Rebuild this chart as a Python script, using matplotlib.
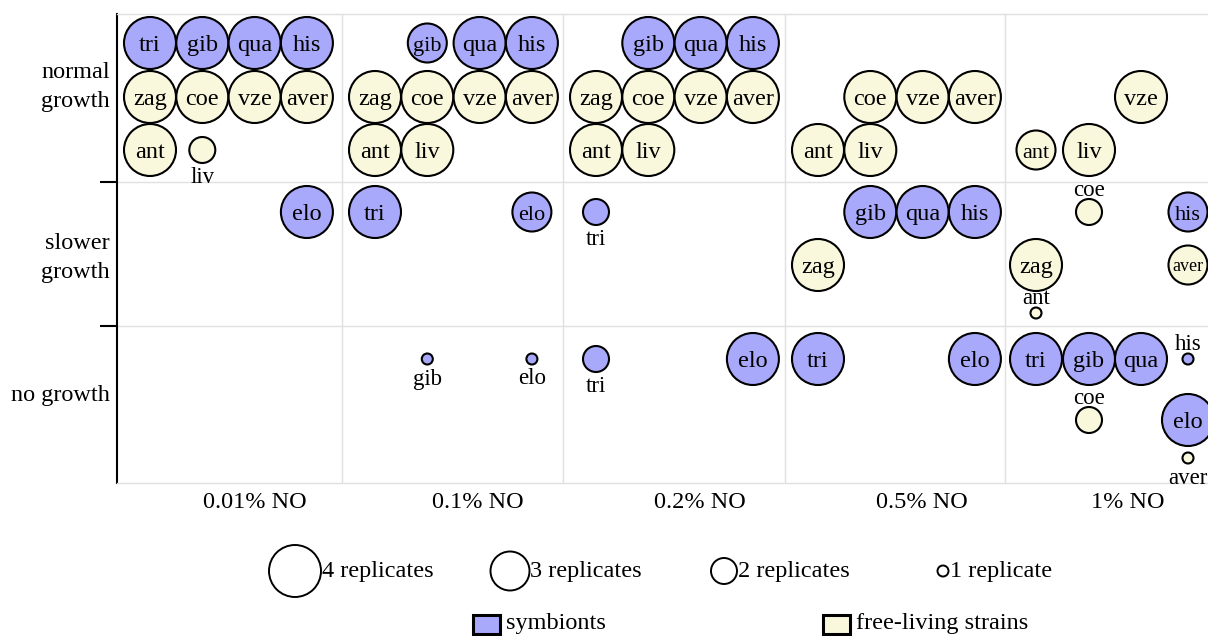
import matplotlib.pyplot as plt
from matplotlib.patches import Circle, Rectangle

plt.rcParams['font.family'] = ['Liberation Serif', 'DejaVu Serif']

concentrations = ["0.01% NO", "0.1% NO", "0.2% NO", "0.5% NO", "1% NO"]
growth_classes = ["normal\ngrowth", "slower\ngrowth", "no growth"]
symbionts = ["tri", "gib", "qua", "his", "elo"]
free_living = ["zag", "coe", "vze", "aver", "ant", "liv"]

# one entry per strain and outcome: concentration index, growth class index, strain, replicates
obs_conc = [0] * 11 + [1] * 13 + [2] * 12 + [3] * 11 + [4] * 15
obs_growth = ([0] * 10 + [1]
              + [0] * 9 + [1, 1, 2, 2]
              + [0] * 9 + [1, 2, 2]
              + [0] * 5 + [1] * 4 + [2] * 2
              + [0] * 3 + [1] * 5 + [2] * 7)
obs_strain = (["tri", "gib", "qua", "his", "zag", "coe", "vze", "aver", "ant", "liv", "elo"]
              + ["gib", "qua", "his", "zag", "coe", "vze", "aver", "ant", "liv", "tri", "elo", "gib", "elo"]
              + ["gib", "qua", "his", "zag", "coe", "vze", "aver", "ant", "liv", "tri", "tri", "elo"]
              + ["coe", "vze", "aver", "ant", "liv", "gib", "qua", "his", "zag", "tri", "elo"]
              + ["vze", "ant", "liv", "coe", "his", "zag", "aver", "ant",
                 "tri", "gib", "qua", "his", "coe", "elo", "aver"])
obs_reps = ([4] * 9 + [2, 4]
            + [3] + [4] * 8 + [4, 3, 1, 1]
            + [4] * 9 + [2, 2, 4]
            + [4] * 11
            + [4, 3, 4, 2, 3, 4, 3, 1, 4, 4, 4, 1, 2, 4, 1])

legend_reps = [4, 3, 2, 1]

# layout (pixel units inside the plot area)
col_left = [0, 225, 446, 668, 888]
row_top = [0, 168, 312]
slot_start = [33, 258, 479, 701, 919]
slot_x = [[0, 52.3, 104.6, 156.9]] * 4 + [[0, 53, 105, 152]]
slot_y = [[29, 83, 136], [30, 83, 131], [33, 94, 132]]
home_slot = {"tri": (0, 0), "gib": (1, 0), "qua": (2, 0), "his": (3, 0), "elo": (3, 0),
             "zag": (0, 1), "coe": (1, 1), "vze": (2, 1), "aver": (3, 1),
             "ant": (0, 2), "liv": (1, 2)}
moved_slot = {(4, 1, "coe"): (1, 0), (4, 2, "elo"): (3, 1), (4, 2, "aver"): (3, 2)}
label_above = {(4, 1, "coe"), (4, 1, "ant"), (4, 2, "his"), (4, 2, "coe")}
radius = {1: 5.5, 2: 13, 3: 19.5, 4: 26}

sym_color = "#a9a9fb"
free_color = "#f9f7dc"
grid_color = "#e0e0e0"
PX = 100 / 72  # pixels per point

fig = plt.figure(figsize=(12.08, 6.36), dpi=100)
W, H = 1208, 636
ax = fig.add_axes([117 / W, (H - 483) / H, (W - 117) / W, 469 / H])
ax.set_xlim(0, W - 117)
ax.set_ylim(469, 0)

for x in col_left[1:]:
    ax.axvline(x, color=grid_color, lw=1, zorder=0)
for y in row_top[1:]:
    ax.axhline(y, color=grid_color, lw=1, zorder=0)

for c, g, s, n in zip(obs_conc, obs_growth, obs_strain, obs_reps):
    sx, sy = moved_slot.get((c, g, s), home_slot[s])
    x = slot_start[c] + slot_x[c][sx]
    y = row_top[g] + slot_y[g][sy]
    r = radius[n]
    fc = sym_color if s in symbionts else free_color
    ax.add_patch(Circle((x, y), r, facecolor=fc, edgecolor="black", lw=1.5, zorder=3))
    if n >= 3:
        fs = 17.5 if n == 4 else (13 if len(s) > 3 else 16)
        ax.text(x, y + 0.34 * fs * PX, s, ha="center", va="baseline", fontsize=fs, zorder=4)
    elif (c, g, s) in label_above:
        ax.text(x, y - r - 3, s, ha="center", va="baseline", fontsize=16.5, zorder=4)
    else:
        ax.text(x, y + r + 4, s, ha="center", va="top", fontsize=16.5, zorder=4)

ax.spines["right"].set_visible(False)
for side in ["top", "bottom"]:
    ax.spines[side].set_color(grid_color)
    ax.spines[side].set_linewidth(1)
ax.spines["left"].set_linewidth(1.5)
ax.set_yticks(row_top[1:])
ax.set_yticklabels([])
ax.tick_params(axis="y", length=12, width=1.5, color="black")
ax.set_xticks([])

row_label_y = [73, 244, 381]
for label, y in zip(growth_classes, row_label_y):
    ax.text(-7, y, label, ha="right", va="center", multialignment="right",
            fontsize=17.5, linespacing=1.45)
col_label_x = [138, 361, 583, 805, 1011]
for label, x in zip(concentrations, col_label_x):
    ax.text(x, 488, label, ha="center", va="center", fontsize=17.5, clip_on=False)

# legends drawn in figure pixel space
lg = fig.add_axes([0, 0, 1, 1])
lg.set_xlim(0, W)
lg.set_ylim(H, 0)
lg.axis("off")
legend_x = [295, 510, 724, 943]
for n, cx in zip(legend_reps, legend_x):
    r = radius[n]
    lg.add_patch(Circle((cx, 571), r, facecolor="white", edgecolor="black", lw=1.4))
    txt = f"{n} replicate" + ("s" if n > 1 else "")
    lg.text(cx + r + 1, 571, txt, ha="left", va="center", fontsize=17.5)

for x0, fc, txt in [(473, sym_color, "symbionts"), (823, free_color, "free-living strains")]:
    lg.add_patch(Rectangle((x0, 615), 27, 19, facecolor=fc, edgecolor="black", lw=2.2))
    lg.text(x0 + 33, 624, txt, ha="left", va="center", fontsize=17.5)

fig.savefig("out.png", dpi=100)
